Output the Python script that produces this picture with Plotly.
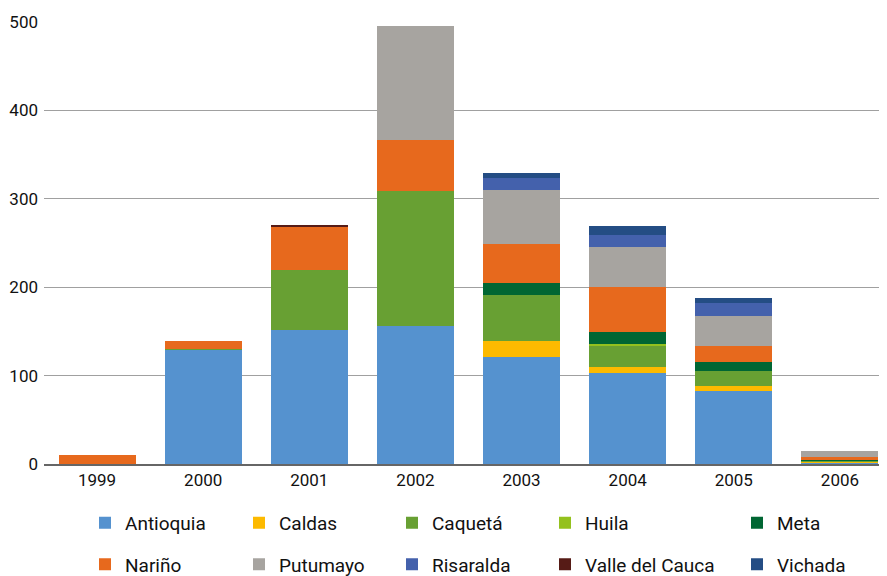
import plotly.graph_objects as go

years = ["1999", "2000", "2001", "2002", "2003", "2004", "2005", "2006"]

antioquia = [0, 130, 152, 156, 121, 103, 83, 1.5]
caldas = [0, 0, 0, 0, 18.5, 6.7, 5.6, 1]
caqueta = [0, 0.5, 68, 153, 51.5, 23.8, 17, 1.5]
huila = [0, 0, 0, 0, 0, 2.2, 0, 0]
meta = [0, 0, 0, 0, 14, 13.5, 10, 1.5]
narino = [10, 9, 48.5, 58, 44, 51, 18, 2]
putumayo = [0, 0, 0, 128, 61, 45.5, 34, 7]
risaralda = [0, 0, 0, 0, 13.5, 13.5, 14.5, 0]
valle = [0, 0, 2, 0, 0, 0, 0, 0]
vichada = [0, 0, 0, 0, 5.5, 9.5, 6, 0]

series = [
    ("Antioquia", antioquia, "#5592CF", "legend"),
    ("Caldas", caldas, "#FDBA00", "legend2"),
    ("Caquetá", caqueta, "#68A033", "legend3"),
    ("Huila", huila, "#94C11E", "legend4"),
    ("Meta", meta, "#006633", "legend5"),
    ("Nariño", narino, "#E7691D", "legend"),
    ("Putumayo", putumayo, "#A7A4A0", "legend2"),
    ("Risaralda", risaralda, "#4461AC", "legend3"),
    ("Valle del Cauca", valle, "#561B16", "legend4"),
    ("Vichada", vichada, "#244D84", "legend5"),
]

FONT = "Roboto, sans-serif"

fig = go.Figure()
for i, (name, vals, color, lg) in enumerate(series):
    fig.add_trace(go.Bar(
        x=years, y=vals, name=name, marker_color=color,
        marker_line_width=0, legend=lg, legendgroup=name,
    ))

legend_common = dict(
    orientation="v", yanchor="top", xanchor="left",
    font=dict(family=FONT, size=19, color="#111"),
    tracegroupgap=14, itemwidth=30, bgcolor="rgba(0,0,0,0)",
)
PLOT_L, PLOT_W = 44, 849
px = [85, 239, 392, 545, 737]
lx = [(p - PLOT_L) / PLOT_W for p in px]
ly = -0.090

fig.update_layout(
    width=887, height=576,
    margin=dict(l=36, r=2, t=14, b=120, autoexpand=False),
    paper_bgcolor="white", plot_bgcolor="white",
    barmode="stack", bargap=0.274,
    font=dict(family=FONT, size=17, color="#111"),
    xaxis=dict(
        type="category", showgrid=False, showline=True,
        linecolor="#666", linewidth=1.5, ticks="",
        tickfont=dict(family=FONT, size=17, color="#111"),
    ),
    yaxis=dict(
        range=[0, 500], dtick=100, showgrid=True, gridcolor="#a0a0a0",
        gridwidth=1, zeroline=False, showline=False, ticks="",
        ticklabelstandoff=5,
        tickfont=dict(family=FONT, size=17, color="#111"),
    ),
    legend=dict(x=lx[0], y=ly, **legend_common),
    legend2=dict(x=lx[1], y=ly, **legend_common),
    legend3=dict(x=lx[2], y=ly, **legend_common),
    legend4=dict(x=lx[3], y=ly, **legend_common),
    legend5=dict(x=lx[4], y=ly, **legend_common),
)

fig.write_html("out.html")
